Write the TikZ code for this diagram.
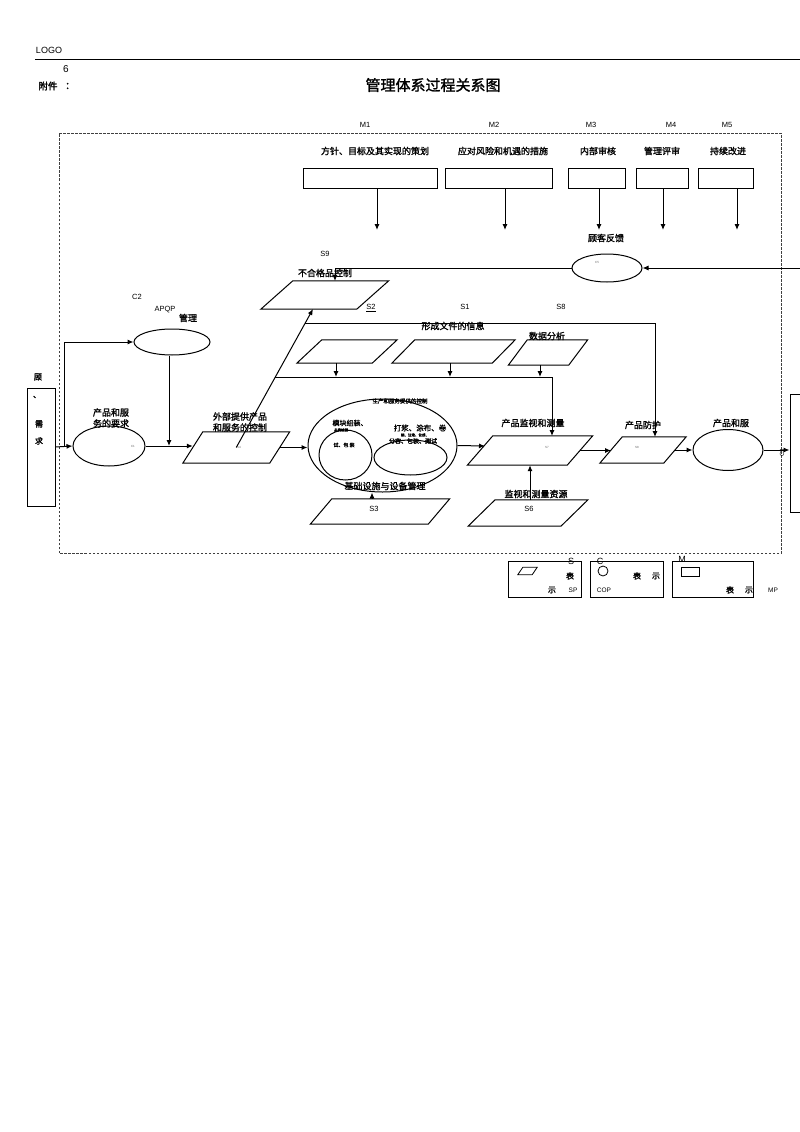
\documentclass[tikz,border=0pt]{standalone}
\usepackage{fontspec}
\setmainfont{Liberation Sans}
\newfontfamily\cjk{Noto Sans CJK SC}
\newfontfamily\cjkb[FakeBold=1.5]{Noto Sans CJK SC}
\usetikzlibrary{shapes.geometric,arrows.meta,calc}
\newcommand\pgnode[7]{%
  \node[inner sep=0,minimum width=#4pt,minimum height=#5pt] (#1) at (#2,#3) {};
  \draw[line width=#7] ($(#1.south west)+(-#6/2,0)$) -- ($(#1.south east)+(-#6/2,0)$) -- ($(#1.north east)+(#6/2,0)$) -- ($(#1.north west)+(#6/2,0)$) -- cycle;}
\begin{document}
\begin{tikzpicture}[x=1pt,y=-1pt,
  arr/.style={line width=1pt,-{Latex[length=6pt,width=5pt]}},
  box/.style={draw,line width=1pt,inner sep=0},
  oval/.style={draw,ellipse,line width=1pt,inner sep=0},
  zh/.style={font=\cjkb\fontsize{9}{11}\selectfont,inner sep=0,align=center},
  zhs/.style={font=\cjkb\fontsize{#1}{#1}\selectfont,inner sep=0},
  lab/.style={font=\fontsize{7.5}{8}\selectfont,inner sep=0},
  tiny/.style={font=\fontsize{3}{3}\selectfont,inner sep=0,text=black!60},
  border/.style={line width=0.8pt,dash pattern=on 2.5pt off 1.5pt,black!75}]
\useasboundingbox[fill=white] (0,0) rectangle (800,1132);

% header
\node[lab,font=\fontsize{9}{9}\selectfont] (logo) at (49,50) {LOGO};
\draw[line width=0.7pt] (35,59) -- (800,59);
\node[lab,font=\fontsize{10}{10}\selectfont] (six) at (66,69) {6};
\node[zhs=9.5] (fujian) at (48,86) {附件};
\node[zhs=9.5] (colon) at (70,86) {：};
\node[zhs=15] (title) at (433,85) {管理体系过程关系图};

% dashed border
\draw[border] (59,133) -- (781,133) -- (781,553) -- (59,553) -- cycle;

% M row
\foreach \n/\x in {M1/365,M2/494,M3/591,M4/671,M5/727}{\node[lab] at (\x,125) {\n};}
\node[zh] (t1) at (375,151) {方针、目标及其实现的策划};
\node[zh] (t2) at (503,151) {应对风险和机遇的措施};
\node[zh] (t3) at (598,151) {内部审核};
\node[zh] (t4) at (662,151) {管理评审};
\node[zh] (t5) at (728,151) {持续改进};
\node[box,minimum width=134pt,minimum height=20pt] (m1) at (370,178) {};
\node[box,minimum width=107pt,minimum height=20pt] (m2) at (498.5,178) {};
\node[box,minimum width=57pt,minimum height=20pt] (m3) at (596.5,178) {};
\node[box,minimum width=52pt,minimum height=20pt] (m4) at (662,178) {};
\node[box,minimum width=55pt,minimum height=20pt] (m5) at (725.5,178) {};
\coordinate (m1e) at (377,230);
\coordinate (m2e) at (505,230);
\coordinate (m3e) at (599,230);
\coordinate (m4e) at (663,230);
\coordinate (m5e) at (737,230);
\foreach \i in {1,...,5}{\draw[arr] (m\i.south -| m\i e) -- (m\i e);}

% customer feedback
\node[zh] (fbt) at (606,238) {顾客反馈};
\node[oval,minimum width=70pt,minimum height=28pt] (fb) at (607,268) {};
\node[tiny] at (597,262) {C5};
\coordinate (fbsrc) at (800,268);
\draw[arr] (fbsrc) -- (fb.east);

% S9
\node[lab] (s9l) at (325,254) {S9};
\node[zh] (s9t) at (325,273) {不合格品控制};
\pgnode{s9}{324.75}{295}{95.5}{28}{32}{1pt}
\coordinate (s9in) at (335,281);
\draw[arr] (fb.west) -| (s9in);

% labels S2 S1 S8
\node[lab] (s2l) at (371,308) {\underline{S2}};
\node[lab] (s1l) at (465,307) {S1};
\node[lab] (s8l) at (561,307) {S8};
\node[zh] (doc) at (453,326) {形成文件的信息};
\node[zh] (data) at (547,336) {数据分析};
\pgnode{pS2}{347}{351.5}{75}{23}{25}{1pt}
\pgnode{pS1}{453.5}{351.5}{100}{23}{23}{1pt}
\pgnode{pS8}{548}{352.5}{60}{25}{19}{1pt}

% C2 APQP
\node[lab] (c2l) at (137,297) {C2};
\node[lab] (apqpl) at (165,310) {APQP};
\node[zhs=9] (guanli) at (188,318) {管理};
\node[oval,minimum width=76pt,minimum height=26pt] (apqp) at (172,342) {};

% customer box
\node[zhs=8] (gu) at (38,377) {顾};
\node[box,minimum width=28pt,minimum height=118pt] (cust) at (41,447) {};
\node[zhs=8] at (37,397) {、};
\node[zhs=8] at (39,424) {需};
\node[zhs=8] at (39,441) {求};

% C1
\node[zh] (c1t) at (111,418) {产品和服\\务的要求};
\node[oval,minimum width=72pt,minimum height=40pt] (C1) at (109,446) {};
\node[tiny] at (133,446) {C1};
\coordinate (br) at (64,446);
\draw[arr] (cust.east) -- (C1.west);
\draw[arr] (br) |- (apqp.west);
\coordinate (j1) at (169,446);
\draw[arr] (apqp.south -| j1) -- (j1);

% S4
\node[zh] (s4t) at (240,422) {外部提供产品\\和服务的控制};
\pgnode{S4}{236.25}{447.5}{86.5}{31}{20}{1pt}
\node[tiny] at (239,447) {S4};
\draw[arr] (C1.east) -- (C1.east -| S4.west);
\coordinate (s9b) at (313,309);
\draw[arr] (S4.center) -- (s9b);
\coordinate (d1) at (305.3,323);
\coordinate (d2) at (275.3,377);

% big ellipse
\node[oval,minimum width=149pt,minimum height=93pt] (bigE) at (382.5,445.5) {};
\node[oval,minimum width=53pt,minimum height=50pt] (lE) at (345.5,455) {};
\node[oval,minimum width=73pt,minimum height=35pt] (rE) at (410.5,457.5) {};
\node[zhs=5.5] (bigt) at (400,401) {生产和服务提供的控制};
\node[zhs=7] at (350,423) {模块组装、};
\node[zhs=3.5] at (341,430) {品质检测};
\node[zhs=5] at (344,445) {试、包 装};
\node[zhs=7.5] at (420,428) {打浆、涂布、卷};
\node[zhs=3.5] at (415,435) {绕、注液、化成、};
\node[zhs=6] at (413,441) {分容、包装、测试};
\draw[arr] (S4.east) -- (S4.east -| bigE.west);

% S3
\node[zh] (s3t) at (385,486) {基础设施与设备管理};
\pgnode{S3}{380}{511.5}{117.5}{25}{21.5}{1pt}
\node[lab] at (374,509) {S3};
\coordinate (s3top) at (372,499);
\draw[arr] (s3top) -- (s3top |- bigE.south);

% S7
\node[zh] (s7t) at (533,423) {产品监视和测量};
\pgnode{S7}{530}{450.5}{99.5}{29}{25.5}{1pt}
\node[tiny] at (547,447) {S7};
\coordinate (s7w) at (485,446);
\draw[arr] (bigE.east) -- (s7w);

% S6
\node[zh] (s6t) at (536,494) {监视和测量资源};
\pgnode{S6}{528}{513}{92.5}{26}{27}{1pt}
\node[lab] at (529,509) {S6};
\coordinate (s6top) at (530,500);
\draw[arr] (s6top) -- (s6top |- S7.south);

% product protection
\node[zh] (prt) at (643,425) {产品防护};
\pgnode{prot}{643}{450}{63.5}{26}{22.5}{1pt}
\node[tiny] at (637,447) {S8};
\draw[arr] (S7.east) -- (S7.east -| prot.west);

% C3
\node[zh] (c3t) at (731,423) {产品和服};
\node[oval,minimum width=70pt,minimum height=41pt] (C3) at (728,450) {};
\draw[arr] (prot.east) -- (prot.east -| C3.west);
\node[box,minimum width=20pt,minimum height=118pt] (rbox) at (800,453) {};
\draw[arr] (C3.east) -- (C3.east -| rbox.west);
\node[lab,font=\fontsize{6}{6}\selectfont,rotate=90] at (782,453) {C3};

% branch lines from the diagonal
\coordinate (protin) at (655,437);
\draw[arr] (d1) -| (protin);
\coordinate (s7in) at (552,436);
\draw[arr] (d2) -| (s7in);
\coordinate (a2) at ($(pS2.south)+(-11,0)$);
\coordinate (a1) at ($(pS1.south)+(-3.5,0)$);
\coordinate (a8) at ($(pS8.south)+(-8,0)$);
\foreach \a in {a2,a1,a8}{\draw[arr] (\a) -- (\a |- d2);}

% legend
\node[box,minimum width=73pt,minimum height=36pt] (lg1) at (544.5,579) {};
\node[box,minimum width=73pt,minimum height=36pt] (lg2) at (626.5,579) {};
\node[box,minimum width=81pt,minimum height=36pt] (lg3) at (712.5,579) {};
\node[lab,font=\fontsize{9}{9}\selectfont] at (571,561) {S};
\node[lab,font=\fontsize{9}{9}\selectfont] at (600,561) {C};
\node[lab,font=\fontsize{9}{9}\selectfont] at (682,559) {M};
\pgnode{lgp}{527.5}{571}{14}{7}{5}{0.8pt}
\node[zhs=8] at (570,576) {表};
\node[zhs=8] at (552,590) {示};
\node[lab,font=\fontsize{6.5}{7}\selectfont] at (573,590) {SP};
\node[draw,circle,line width=0.8pt,minimum size=10pt,inner sep=0] (lgc) at (603,571) {};
\node[zhs=8] at (637,576) {表};
\node[zhs=8] at (656,576) {示};
\node[lab,font=\fontsize{6.5}{7}\selectfont] at (604,590) {COP};
\node[box,line width=0.8pt,minimum width=18pt,minimum height=9pt] (lgr) at (690,571.5) {};
\node[zhs=8] at (730,590) {表};
\node[zhs=8] at (749,590) {示};
\node[lab,font=\fontsize{6.5}{7}\selectfont] at (773,590) {MP};
\end{tikzpicture}
\end{document}
